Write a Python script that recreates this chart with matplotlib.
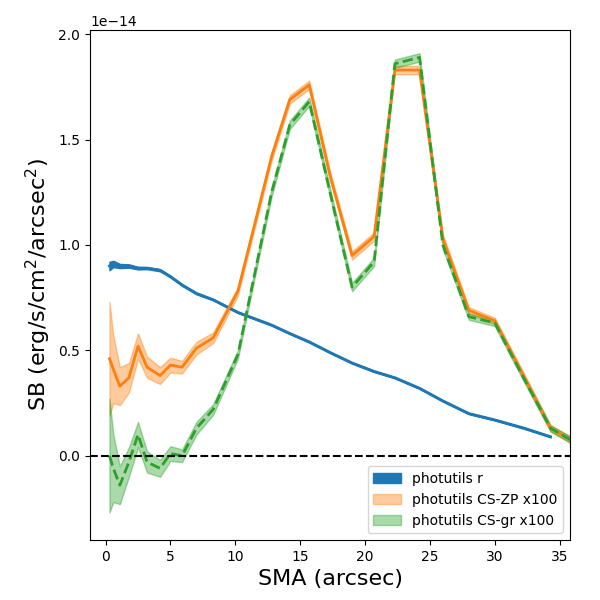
import numpy as np
import matplotlib.pyplot as plt

sma = [0.3, 0.6, 1.1, 1.8, 2.5, 3.2, 4.2, 5.0, 5.9, 7.0, 8.3, 10.2, 12.8, 14.2, 15.7,
       17.3, 19.0, 20.7, 22.3, 24.2, 26.0, 28.0, 30.0, 32.3, 34.3, 36.0]
sb_r = [0.90, 0.91, 0.90, 0.90, 0.89, 0.89, 0.88, 0.85, 0.81, 0.77, 0.74, 0.68, 0.62, 0.58,
        0.54, 0.49, 0.44, 0.40, 0.37, 0.32, 0.26, 0.20, 0.17, 0.13, 0.09]
err_r = [0.02, 0.015, 0.01, 0.008, 0.006, 0.005, 0.005, 0.004, 0.004, 0.004, 0.003, 0.003,
         0.003, 0.003, 0.003, 0.003, 0.003, 0.003, 0.003, 0.003, 0.003, 0.003, 0.003, 0.003, 0.003]
sb_zp = [0.46, 0.41, 0.33, 0.37, 0.52, 0.42, 0.38, 0.43, 0.42, 0.51, 0.56, 0.78, 1.42, 1.69,
         1.76, 1.33, 0.95, 1.04, 1.83, 1.83, 1.03, 0.69, 0.64, 0.37, 0.13, 0.07]
sb_gr = [0.00, -0.06, -0.14, -0.03, 0.10, -0.03, -0.06, 0.01, 0.00, 0.13, 0.22, 0.48, 1.25,
         1.57, 1.68, 1.25, 0.80, 0.92, 1.86, 1.89, 1.00, 0.66, 0.63, 0.36, 0.13, 0.07]
err_cs = [0.27, 0.16, 0.09, 0.07, 0.06, 0.05, 0.04, 0.035, 0.03, 0.03, 0.025, 0.02, 0.02,
          0.02, 0.02, 0.02, 0.02, 0.02, 0.02, 0.02, 0.02, 0.015, 0.015, 0.015, 0.015, 0.015]

scale = 1e-14
x = np.array(sma)
r = np.array(sb_r) * scale
er = np.array(err_r) * scale
zp = np.array(sb_zp) * scale
gr = np.array(sb_gr) * scale
ec = np.array(err_cs) * scale
xr = x[:len(r)]

fig = plt.figure(figsize=(6, 6), dpi=100)
ax = fig.add_axes([0.15, 0.1, 0.8, 0.85])

ax.fill_between(xr, r - er, r + er, color='C0', alpha=1.0, label='photutils r')
ax.plot(xr, r, color='C0', lw=2)
ax.fill_between(x, zp - ec, zp + ec, color='C1', alpha=0.4, label='photutils CS-ZP x100')
ax.plot(x, zp, color='C1', lw=2)
ax.fill_between(x, gr - ec, gr + ec, color='C2', alpha=0.4, label='photutils CS-gr x100')
ax.plot(x, gr, color='C2', lw=2, ls='--')
ax.axhline(0, color='k', ls='--')

ax.set_xlim(-1.2, 35.8)
ax.set_ylim(-0.4e-14, 2.02e-14)
ax.set_xlabel('SMA (arcsec)', fontsize=16)
ax.set_ylabel('SB (erg/s/cm$^2$/arcsec$^2$)', fontsize=16)
ax.legend(loc='lower right')
fig.savefig('out.png')
